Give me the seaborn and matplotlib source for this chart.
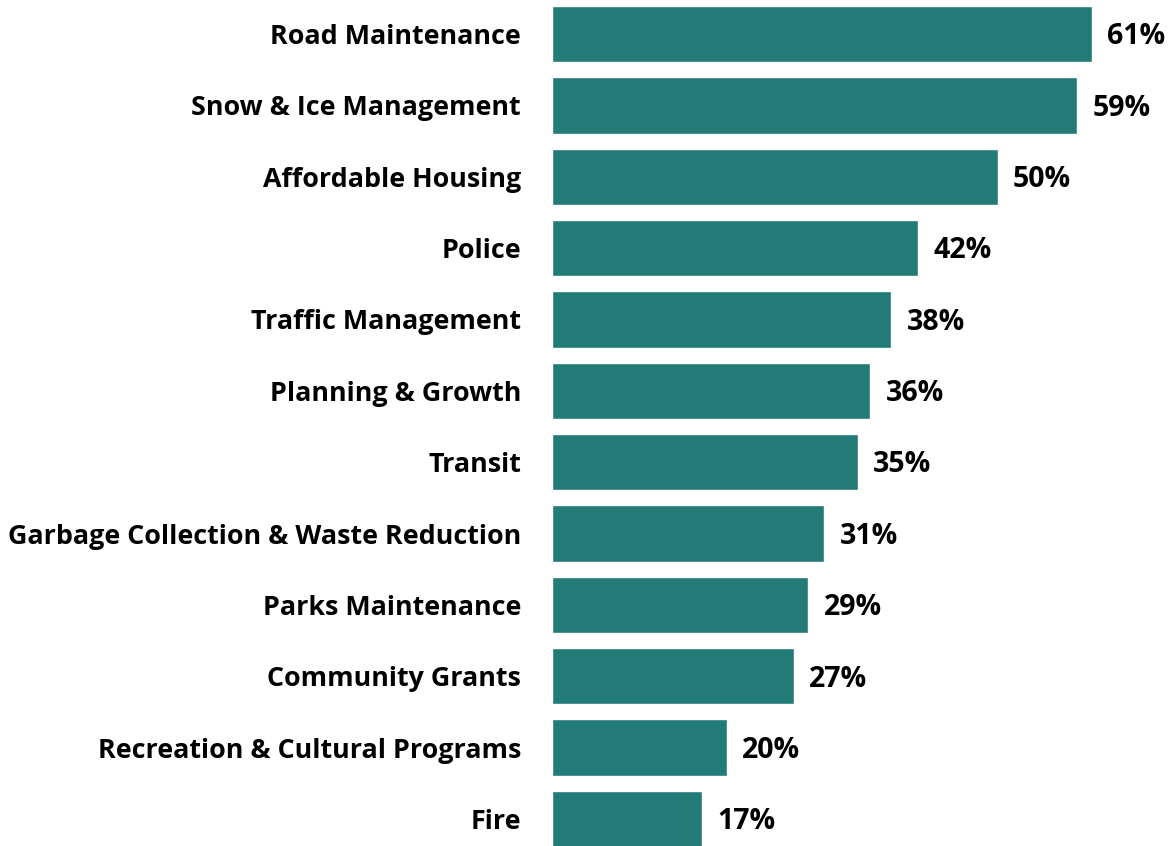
import matplotlib
matplotlib.use("Agg")
import matplotlib.pyplot as plt
import seaborn as sns
import pandas as pd

categories = ["Road Maintenance", "Snow & Ice Management", "Affordable Housing", "Police",
              "Traffic Management", "Planning & Growth", "Transit",
              "Garbage Collection & Waste Reduction", "Parks Maintenance", "Community Grants",
              "Recreation & Cultural Programs", "Fire"]
values = [61.0, 59.4, 50.4, 41.4, 38.4, 36.0, 34.6, 30.8, 29.0, 27.4, 19.8, 17.0]
value_labels = ["61%", "59%", "50%", "42%", "38%", "36%", "35%", "31%", "29%", "27%", "20%", "17%"]

sns.set_style("white")
plt.rcParams['font.family'] = ['Open Sans', 'DejaVu Sans']

df = pd.DataFrame({"cat": categories, "val": values})

fig = plt.figure(figsize=(11.73, 8.46), dpi=100)
ax = fig.add_axes([551.5/1173, 0, 1 - 551.5/1173, 1])
sns.barplot(data=df, y="cat", x="val", color="#237B77", saturation=1, width=0.79, ax=ax, orient="h")
ax.set_xlim(0, 70.2)
ax.set_ylim(11.379, -0.476)
for i, (v, t) in enumerate(zip(values, value_labels)):
    ax.annotate(t, xy=(v, i), xytext=(11, -2), textcoords="offset points",
                ha="left", va="center", fontsize=20.5, fontweight="bold", color="black")
ax.set_xlabel("")
ax.set_ylabel("")
ax.set_xticks([])
ax.tick_params(axis="y", length=0, pad=22, labelsize=19.4, labelcolor="black")
for lab in ax.get_yticklabels():
    lab.set_fontweight("bold")
for s in ax.spines.values():
    s.set_visible(False)
fig.savefig("out.png", dpi=100)
